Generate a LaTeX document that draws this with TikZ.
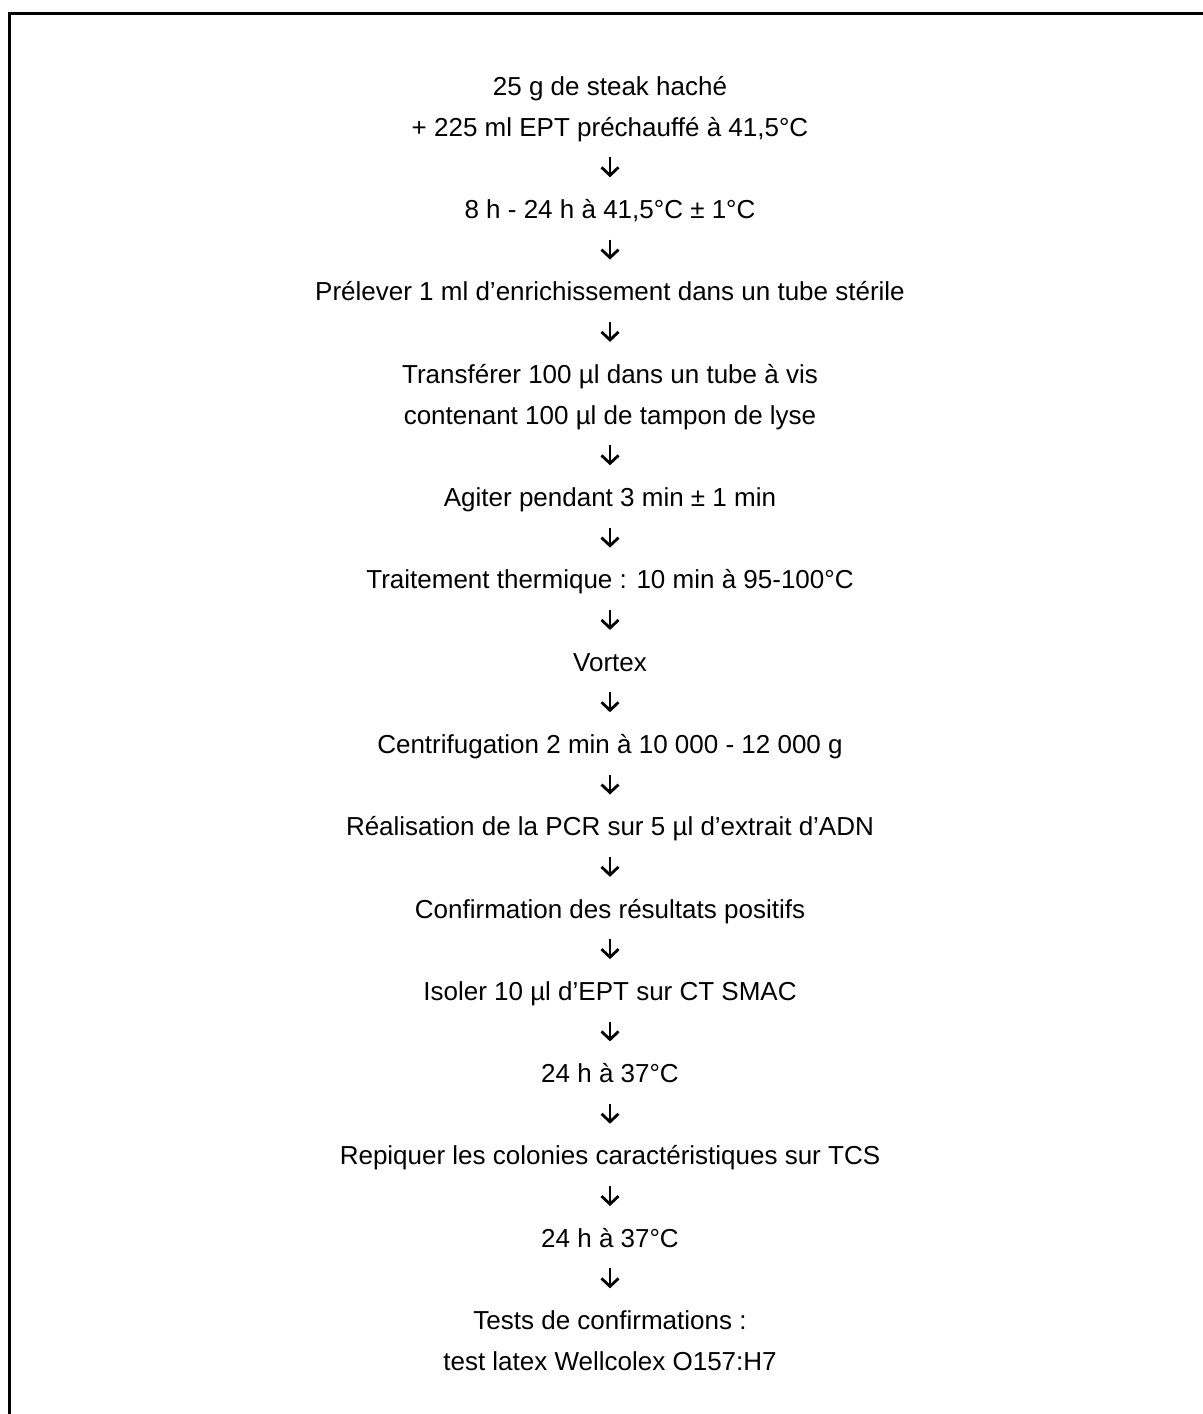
\documentclass[tikz,border=0pt]{standalone}
\usepackage{fontspec}
\setmainfont{Liberation Sans}
\usetikzlibrary{arrows.meta}
\begin{document}
\begin{tikzpicture}[x=0.5pt,y=-0.5pt,
  txt/.style={anchor=base,inner sep=0pt,font=\fontsize{13pt}{15pt}\selectfont},
  arr/.style={line width=1.4pt,-{Straight Barb[length=4pt,width=8.5pt,line width=1.4pt]},shorten <=10.6pt,shorten >=20.6pt},
  frame/.style={line width=1.5pt}]
\useasboundingbox (0,0) rectangle (1203,1414);
\draw[frame] (1203,13.5) -- (9.5,13.5) -- (9.5,1414);
\def\cx{610}
\def\by{95}
\def\py{41.15}
\node[txt] (n0)  at (\cx,{\by+\py*0})  {25 g de steak haché};
\node[txt] (n1)  at (\cx,{\by+\py*1})  {+ 225 ml EPT préchauffé à 41,5°C};
\node[txt] (n3)  at (\cx,{\by+\py*3})  {8 h - 24 h à 41,5°C ± 1°C};
\node[txt] (n5)  at (\cx,{\by+\py*5})  {Prélever 1 ml d’enrichissement dans un tube stérile};
\node[txt] (n7)  at (\cx,{\by+\py*7})  {Transférer 100 µl dans un tube à vis};
\node[txt] (n8)  at (\cx,{\by+\py*8})  {contenant 100 µl de tampon de lyse};
\node[txt] (n10) at (\cx,{\by+\py*10}) {Agiter pendant 3 min ± 1 min};
\node[txt] (n12) at (\cx,{\by+\py*12}) {Traitement thermique : 10 min à 95-100°C};
\node[txt] (n14) at (\cx,{\by+\py*14}) {Vortex};
\node[txt] (n16) at (\cx,{\by+\py*16}) {Centrifugation 2 min à 10 000 - 12 000 g};
\node[txt] (n18) at (\cx,{\by+\py*18}) {Réalisation de la PCR sur 5 µl d’extrait d’ADN};
\node[txt] (n20) at (\cx,{\by+\py*20}) {Confirmation des résultats positifs};
\node[txt] (n22) at (\cx,{\by+\py*22}) {Isoler 10 µl d’EPT sur CT SMAC};
\node[txt] (n24) at (\cx,{\by+\py*24}) {24 h à 37°C};
\node[txt] (n26) at (\cx,{\by+\py*26}) {Repiquer les colonies caractéristiques sur TCS};
\node[txt] (n28) at (\cx,{\by+\py*28}) {24 h à 37°C};
\node[txt] (n30) at (\cx,{\by+\py*30}) {Tests de confirmations :};
\node[txt] (n31) at (\cx,{\by+\py*31}) {test latex Wellcolex O157:H7};
\foreach \a/\b in {n1/n3,n3/n5,n5/n7,n8/n10,n10/n12,n12/n14,n14/n16,n16/n18,n18/n20,n20/n22,n22/n24,n24/n26,n26/n28,n28/n30}
  \draw[arr] (\a.base) -- (\b.base);
\end{tikzpicture}
\end{document}
